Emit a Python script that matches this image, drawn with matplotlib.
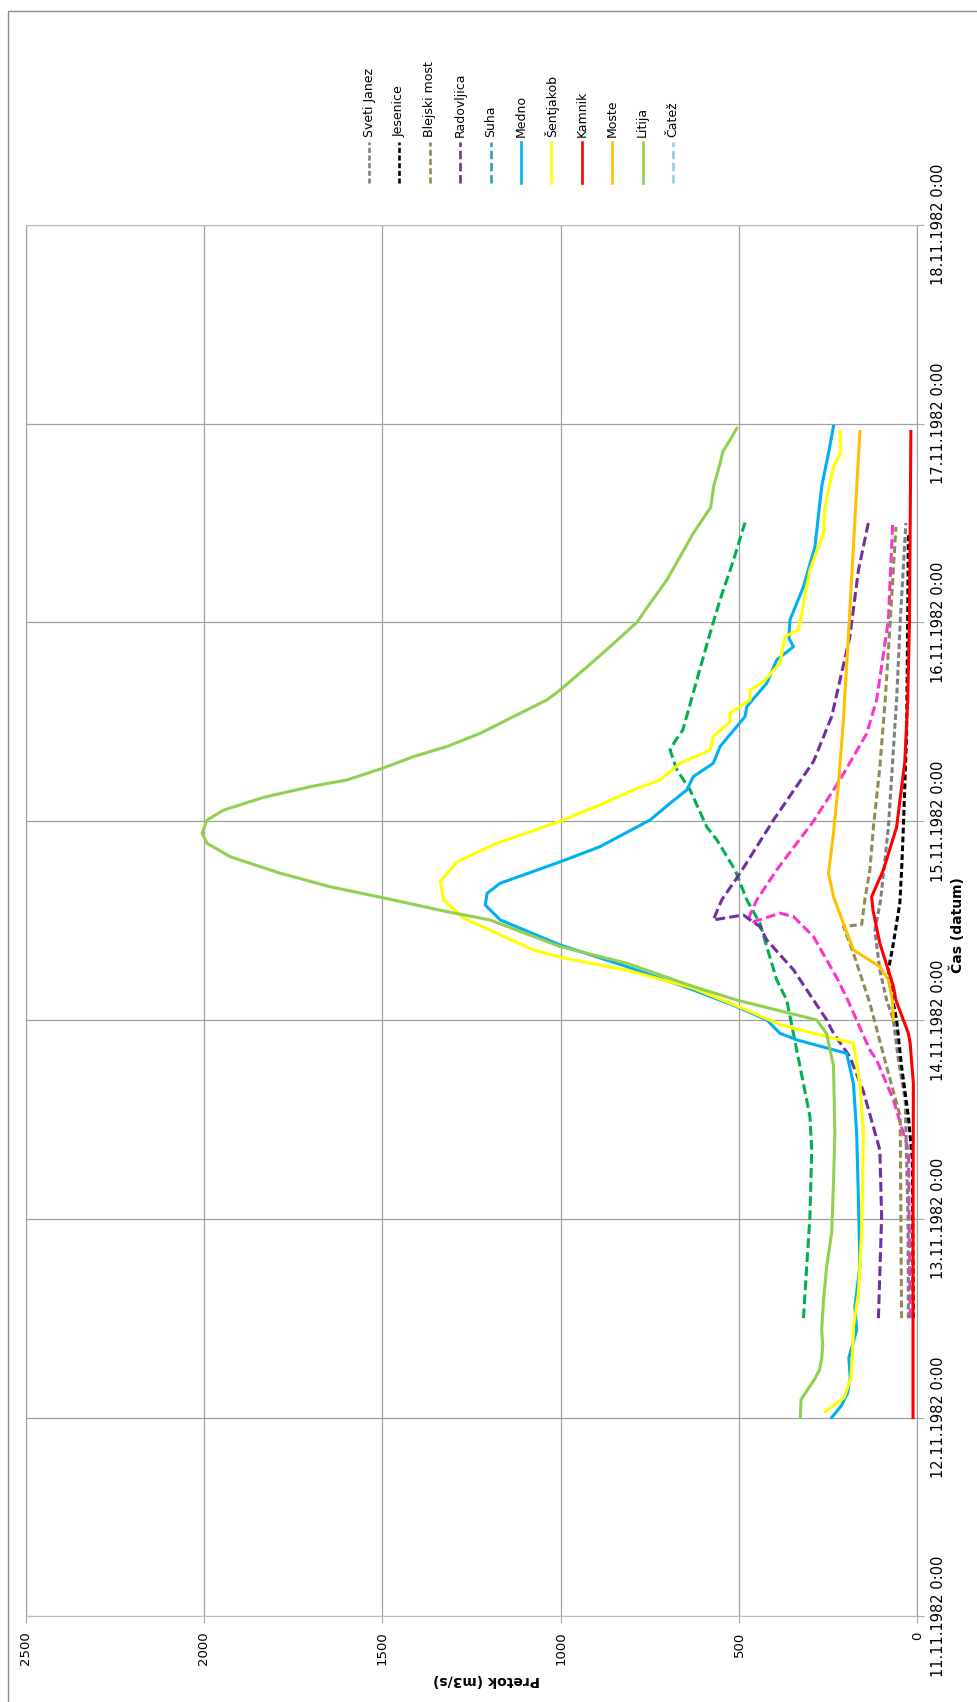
import matplotlib.pyplot as plt
from matplotlib.lines import Line2D
from matplotlib.patches import Rectangle

# Časi so v dneh od 11.11.1982 0:00, pretoki v m3/s
sveti_janez_t = [1.5, 2.0, 2.6, 2.8, 3.0, 3.1, 3.25, 3.45, 3.6, 3.97, 4.36, 4.61, 5.0, 5.5]
sveti_janez_q = [25, 26, 34, 53, 67, 86, 105, 119, 103, 81, 67, 58, 48, 32]

jesenice_t = [1.5, 2.3, 2.514, 2.765, 3.0, 3.084, 3.252, 3.386, 3.587, 3.755, 3.97, 4.44, 5.0, 5.45]
jesenice_q = [11, 14, 25, 44, 58, 67, 81, 67, 49, 44, 39, 30, 27, 25]

blejski_t = [1.5, 2.514, 2.765, 3.084, 3.335, 3.47, 3.48, 3.604, 3.755, 3.97, 4.27, 4.61, 5.0, 5.48]
blejski_q = [44, 48, 86, 133, 179, 207, 156, 147, 133, 123, 105, 90, 76, 60]

radovljica_t = [1.5, 2.01, 2.346, 2.64, 2.815, 2.933, 3.0, 3.1, 3.252, 3.402, 3.469, 3.528,
                3.503, 3.604, 3.738, 4.006, 4.30, 4.526, 4.928, 5.263, 5.502]
radovljica_q = [109, 100, 105, 151, 189, 235, 254, 291, 347, 422, 441, 488,
                572, 548, 497, 403, 291, 240, 189, 165, 137]

medno_t = [1.0, 1.06, 1.12, 1.2, 1.3, 1.44, 1.558, 1.76, 2.095, 2.43, 2.68, 2.832, 2.9, 2.933,
           3.0, 3.067, 3.151, 3.268, 3.377, 3.503, 3.578, 3.637, 3.688, 3.796, 3.872, 4.006,
           4.09, 4.157, 4.224, 4.291, 4.375, 4.526, 4.576, 4.694, 4.811, 4.878, 4.92, 5.012,
           5.18, 5.381, 5.683, 5.85, 5.985]
medno_q = [240, 213, 196, 188, 192, 170, 175, 161, 165, 170, 179, 198, 338, 385,
           422, 506, 628, 814, 1001, 1169, 1211, 1206, 1169, 1000, 889, 749,
           693, 646, 628, 572, 553, 483, 478, 422, 394, 347, 360, 357,
           319, 287, 268, 249, 235]

sentjakob_t = [1.03, 1.1, 1.2, 1.3, 1.457, 1.625, 1.927, 2.43, 2.68, 2.883, 2.958, 2.984,
               3.05, 3.16, 3.25, 3.315, 3.352, 3.512, 3.604, 3.696, 3.796, 3.889, 4.0,
               4.082, 4.157, 4.207, 4.291, 4.358, 4.425, 4.50, 4.543, 4.61, 4.66, 4.702,
               4.794, 4.928, 4.962, 5.263, 5.448, 5.58, 5.783, 5.85, 5.96]
sentjakob_q = [258, 205, 186, 182, 179, 165, 156, 151, 161, 179, 347, 394,
               478, 628, 814, 1001, 1076, 1272, 1328, 1337, 1290, 1178, 1000,
               889, 796, 721, 665, 581, 572, 525, 525, 469, 469, 431,
               385, 371, 333, 301, 263, 259, 235, 215, 217]

kamnik_t = [1.0, 2.0, 2.68, 2.883, 2.933, 3.0, 3.1, 3.168, 3.386, 3.55, 3.62, 3.755, 3.97,
            4.3, 4.6, 5.0, 5.96]
kamnik_q = [12, 12, 11, 20, 25, 39, 60, 67, 105, 124, 128, 95, 58, 35, 27, 22, 18]

moste_t = [3.0, 3.1, 3.201, 3.268, 3.352, 3.486, 3.62, 3.738, 3.94, 4.19, 4.509, 5.0, 5.96]
moste_q = [67, 70, 81, 105, 179, 207, 235, 249, 235, 221, 207, 191, 161]

litija_t = [1.0, 1.09, 1.15, 1.19, 1.24, 1.30, 1.36, 1.44, 1.59, 1.76, 1.93, 2.18, 2.43, 2.77,
            2.93, 3.0, 3.05, 3.1, 3.168, 3.285, 3.369, 3.503, 3.545, 3.615, 3.67, 3.738,
            3.821, 3.889, 3.939, 4.006, 4.056, 4.12, 4.177, 4.207, 4.266, 4.325, 4.375,
            4.442, 4.526, 4.61, 4.66, 4.76, 4.878, 5.0, 5.096, 5.213, 5.448, 5.579, 5.683,
            5.80, 5.859, 5.917, 5.976]
litija_q = [328, 326, 304, 289, 274, 268, 265, 268, 263, 254, 240, 235, 231, 235,
            254, 282, 394, 506, 628, 814, 1001, 1198, 1319, 1499, 1646, 1786,
            1926, 1991, 2005, 1991, 1944, 1832, 1692, 1599, 1499, 1412, 1319,
            1225, 1132, 1038, 1001, 936, 861, 786, 749, 702, 628, 579, 571,
            553, 545, 525, 506]

# dodatni črtkani seriji brez vnosa v legendi
roza_t = [1.5, 2.346, 2.598, 2.799, 2.849, 3.1, 3.2, 3.419, 3.52, 3.537, 3.494, 3.512,
          3.604, 3.755, 4.0, 4.207, 4.44, 4.61, 5.012, 5.50]
roza_q = [20, 25, 67, 114, 133, 195, 222, 291, 347, 385, 459, 473,
          450, 394, 291, 217, 142, 114, 81, 69]

zelena_t = [1.5, 1.76, 2.01, 2.346, 2.514, 2.849, 3.1, 3.201, 3.369, 3.486, 3.604, 3.755,
            3.906, 3.97, 4.157, 4.258, 4.358, 4.40, 4.46, 4.53, 4.71, 4.945, 5.113, 5.314, 5.502]
zelena_q = [319, 310, 301, 296, 301, 338, 366, 394, 422, 441, 478, 511,
            562, 590, 637, 674, 693, 680, 657, 646, 618, 581, 553, 515, 483]

postaje = ['Sveti Janez', 'Jesenice', 'Blejski most', 'Radovljica', 'Suha', 'Medno',
           'Šentjakob', 'Kamnik', 'Moste', 'Litija', 'Čatež']

datumi = ['11.11.1982 0:00', '12.11.1982 0:00', '13.11.1982 0:00', '14.11.1982 0:00',
          '15.11.1982 0:00', '16.11.1982 0:00', '17.11.1982 0:00', '18.11.1982 0:00']
pretok_ticks = [0, 500, 1000, 1500, 2000, 2500]

kratka = (0, (1.9, 1.0))
dolga = (0, (3.2, 1.4))
slogi = {
    'Sveti Janez': ('#7f7f7f', kratka),
    'Jesenice': ('#000000', kratka),
    'Blejski most': ('#948a54', (0, (2.3, 1.2))),
    'Radovljica': ('#7030a0', dolga),
    'Suha': ('#31a0b8', dolga),
    'Medno': ('#00b0f0', '-'),
    'Šentjakob': ('#ffff00', '-'),
    'Kamnik': ('#ff0000', '-'),
    'Moste': ('#ffc000', '-'),
    'Litija': ('#92d050', '-'),
    'Čatež': ('#93cddd', dolga),
}

W, H = 977, 1702
fig = plt.figure(figsize=(W / 100, H / 100), dpi=100)


def fx(px):
    return px / W


def fy(py):
    return 1 - py / H


# okvir grafikona
fig.add_artist(Rectangle((fx(7.5), fy(1720)), fx(1000) - fx(7.5), fy(11) - fy(1720),
                         transform=fig.transFigure, fill=False, ec='#8c8c8c', lw=1))

ax = fig.add_axes([fx(25.5), fy(1616.4), fx(917.3) - fx(25.5), fy(224.7) - fy(1616.4)])

lw = 2.2
ax.plot(zelena_q, zelena_t, color='#00b050', ls=dolga, lw=lw)
ax.plot(roza_q, roza_t, color='#ff33cc', ls=dolga, lw=lw)

serije = [
    ('Sveti Janez', sveti_janez_q, sveti_janez_t),
    ('Jesenice', jesenice_q, jesenice_t),
    ('Blejski most', blejski_q, blejski_t),
    ('Radovljica', radovljica_q, radovljica_t),
    ('Medno', medno_q, medno_t),
    ('Šentjakob', sentjakob_q, sentjakob_t),
    ('Kamnik', kamnik_q, kamnik_t),
    ('Moste', moste_q, moste_t),
    ('Litija', litija_q, litija_t),
]
for ime, q, t in serije:
    barva, slog = slogi[ime]
    ax.plot(q, t, color=barva, ls=slog, lw=lw, label=ime)

# os pretoka teče od desne proti levi, čas od spodaj navzgor
ax.set_xlim(2500, 0)
ax.set_ylim(0, 7)
ax.set_xticks(pretok_ticks)
ax.set_xticklabels([str(v) for v in pretok_ticks], rotation=90, fontsize=9.5)
ax.set_yticks(range(len(datumi)))
ax.yaxis.tick_right()
ax.set_yticklabels(datumi, rotation=90, va='center', ha='left', fontsize=10.5)
ax.tick_params(axis='x', direction='out', length=5, color='#a6a6a6', pad=6)
ax.tick_params(axis='y', direction='out', length=5, color='#a6a6a6', pad=5)

ax.grid(True, color='#a0a0a0', lw=0.9)
ax.set_axisbelow(True)
for strana in ['left', 'right']:
    ax.spines[strana].set_color('#a0a0a0')
for strana in ['top', 'bottom']:
    ax.spines[strana].set_color('#bdbdbd')

fig.text(fx(486), fy(1680), 'Pretok (m3/s)', rotation=180, ha='center', va='center',
         fontsize=10, fontweight='bold')
fig.text(fx(957), fy(925), 'Čas (datum)', rotation=90, ha='center', va='center',
         fontsize=10, fontweight='bold')

# legenda: navpični vzorci črt z besedilom nad njimi
for i, ime in enumerate(postaje):
    barva, slog = slogi[ime]
    x = 369 + 30.4 * i
    fig.add_artist(Line2D([fx(x), fx(x)], [fy(183), fy(142)], transform=fig.transFigure,
                          color=barva, ls=slog, lw=1.9))
    fig.text(fx(x), fy(137), ime, rotation=90, ha='center', va='bottom', fontsize=9)

fig.savefig('out.png', dpi=100)
